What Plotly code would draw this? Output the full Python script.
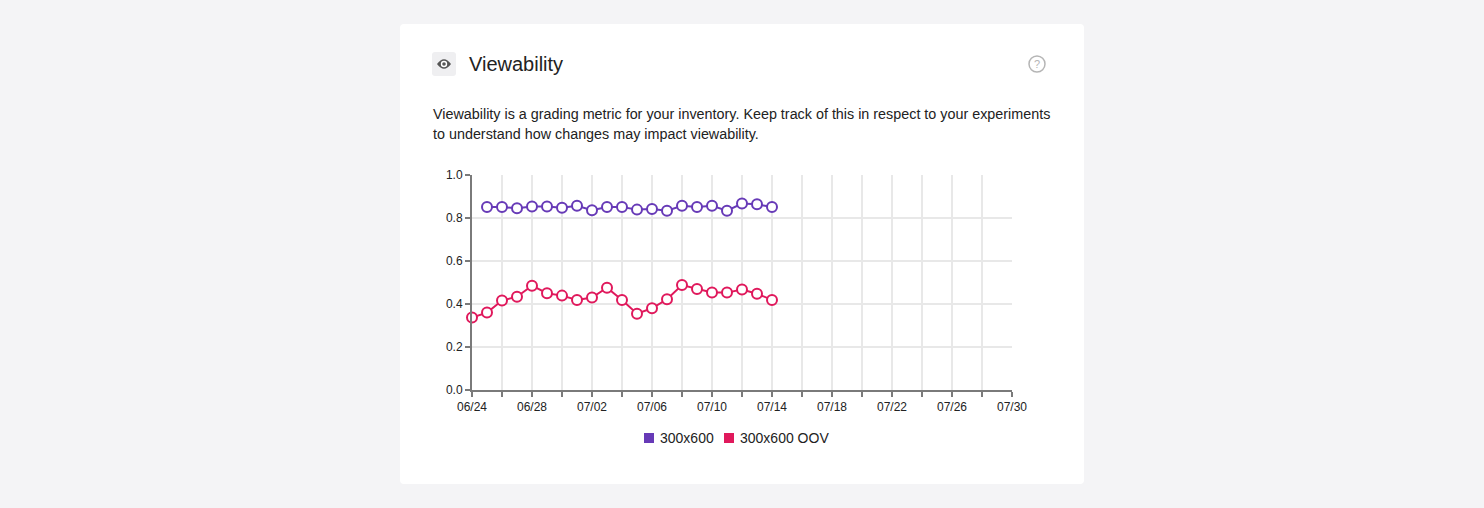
import plotly.graph_objects as go
import pandas as pd

# series data
oov_dates = pd.date_range("2023-06-24", "2023-07-14", freq="D")
oov_values = [0.337, 0.360, 0.416, 0.434, 0.485, 0.450, 0.439, 0.419, 0.430, 0.476,
              0.419, 0.355, 0.380, 0.422, 0.488, 0.470, 0.454, 0.453, 0.467, 0.448, 0.419]

main_dates = pd.date_range("2023-06-25", "2023-07-14", freq="D")
main_values = [0.851, 0.851, 0.845, 0.854, 0.854, 0.848, 0.857, 0.836, 0.851, 0.851,
               0.839, 0.842, 0.834, 0.857, 0.851, 0.857, 0.834, 0.867, 0.864, 0.851]

series_names = ["300x600", "300x600 OOV"]
colors = ["#673ab7", "#e0195c"]

tick_dates = pd.date_range("2023-06-24", "2023-07-30", freq="2D")
tick_labels = [d.strftime("%m/%d") if i % 2 == 0 else "" for i, d in enumerate(tick_dates)]
y_ticks = [0.0, 0.2, 0.4, 0.6, 0.8, 1.0]

# plot area in pixels (window 1484x508)
W, H = 1484, 508
PL, PR, PT, PB = 472, 1012, 175, 390
FONT = "Liberation Sans, Arial, Helvetica, sans-serif"


def px(x):
    return (x - PL) / (PR - PL)


def py(y):
    return (PB - y) / (PB - PT)


def round_rect(x0, y0, x1, y1, r):
    # rounded rectangle path in paper coords, from pixel box
    a, b, c, d = px(x0), px(x1), py(y0), py(y1)
    rx, ry = r / (PR - PL), r / (PB - PT)
    return (f"M {a + rx},{c} L {b - rx},{c} Q {b},{c} {b},{c - ry} "
            f"L {b},{d + ry} Q {b},{d} {b - rx},{d} L {a + rx},{d} "
            f"Q {a},{d} {a},{d + ry} L {a},{c - ry} Q {a},{c} {a + rx},{c} Z")


fig = go.Figure()

for name, dates, values, color in [(series_names[0], main_dates, main_values, colors[0]),
                                   (series_names[1], oov_dates, oov_values, colors[1])]:
    fig.add_trace(go.Scatter(
        x=dates, y=values, mode="lines+markers", name=name, showlegend=False,
        line=dict(color=color, width=2),
        marker=dict(size=10, color="white", line=dict(color=color, width=2)),
        cliponaxis=False,
    ))

shapes = [
    # white card
    dict(type="path", xref="paper", yref="paper", path=round_rect(400, 24, 1084, 484, 4),
         fillcolor="white", line=dict(width=0), layer="below"),
    # icon background
    dict(type="path", xref="paper", yref="paper", path=round_rect(432, 52, 456, 76, 3),
         fillcolor="#efeff1", line=dict(width=0), layer="below"),
    # eye outline
    dict(type="path", xref="paper", yref="paper",
         path=(f"M {px(437)},{py(64)} Q {px(444)},{py(54.5)} {px(451)},{py(64)} "
               f"Q {px(444)},{py(73.5)} {px(437)},{py(64)} Z"),
         fillcolor="#555555", line=dict(width=0)),
    dict(type="circle", xref="paper", yref="paper",
         x0=px(440.8), x1=px(447.2), y0=py(60.8), y1=py(67.2),
         fillcolor="white", line=dict(width=0)),
    dict(type="circle", xref="paper", yref="paper",
         x0=px(442.2), x1=px(445.8), y0=py(62.2), y1=py(65.8),
         fillcolor="#555555", line=dict(width=0)),
    # help icon circle
    dict(type="circle", xref="paper", yref="paper",
         x0=px(1029), x1=px(1045), y0=py(56), y1=py(72),
         fillcolor="rgba(0,0,0,0)", line=dict(color="#b5b5b5", width=1.5)),
]

annotations = [
    dict(text="Viewability", x=px(467), y=py(64), xref="paper", yref="paper",
         xanchor="left", yanchor="middle", showarrow=False,
         font=dict(size=20, color="#222222", family=FONT)),
    dict(text="?", x=px(1037), y=py(64), xref="paper", yref="paper",
         xanchor="center", yanchor="middle", showarrow=False,
         font=dict(size=11, color="#b5b5b5", family=FONT)),
    dict(text="Viewability is a grading metric for your inventory. Keep track of this in respect to your experiments",
         x=px(431), y=py(114), xref="paper", yref="paper",
         xanchor="left", yanchor="middle", showarrow=False,
         font=dict(size=14.35, color="#222222", family=FONT)),
    dict(text="to understand how changes may impact viewability.",
         x=px(431), y=py(134), xref="paper", yref="paper",
         xanchor="left", yanchor="middle", showarrow=False,
         font=dict(size=14.35, color="#222222", family=FONT)),
]

# legend drawn by hand: square swatch + label
legend_x = [644, 724]
for name, color, lx in zip(series_names, colors, legend_x):
    shapes.append(dict(type="rect", xref="paper", yref="paper",
                       x0=px(lx), x1=px(lx + 10), y0=py(443), y1=py(433),
                       fillcolor=color, line=dict(width=0)))
    annotations.append(dict(text=name, x=px(lx + 14), y=py(438), xref="paper", yref="paper",
                            xanchor="left", yanchor="middle", showarrow=False,
                            font=dict(size=14, color="#222222", family=FONT)))

fig.update_layout(
    width=W, height=H,
    margin=dict(l=PL, r=W - PR, t=PT, b=H - PB, pad=0),
    paper_bgcolor="#f4f4f6", plot_bgcolor="white",
    font=dict(family=FONT, size=12, color="#222222"),
    shapes=shapes, annotations=annotations,
    showlegend=False,
    xaxis=dict(
        type="date", range=[tick_dates[0], tick_dates[-1]],
        tickmode="array", tickvals=tick_dates, ticktext=tick_labels,
        showgrid=True, gridcolor="#e8e8e8", gridwidth=1.5,
        showline=True, linecolor="#7a7a7a", linewidth=2,
        ticks="outside", ticklen=5, tickcolor="#7a7a7a", tickwidth=2,
        tickfont=dict(size=12, color="#222222"), zeroline=False, fixedrange=True,
    ),
    yaxis=dict(
        range=[0, 1], tickvals=y_ticks, tickformat=".1f",
        showgrid=True, gridcolor="#e8e8e8", gridwidth=1.5,
        showline=True, linecolor="#7a7a7a", linewidth=2,
        ticks="outside", ticklen=5, tickcolor="#7a7a7a", tickwidth=2,
        tickfont=dict(size=12, color="#222222"), zeroline=False, fixedrange=True,
    ),
)

# drop the default page margin so the figure sits at the window origin
fig.write_html("out.html", config={"displayModeBar": False},
               post_script="document.body.style.margin='0';")
